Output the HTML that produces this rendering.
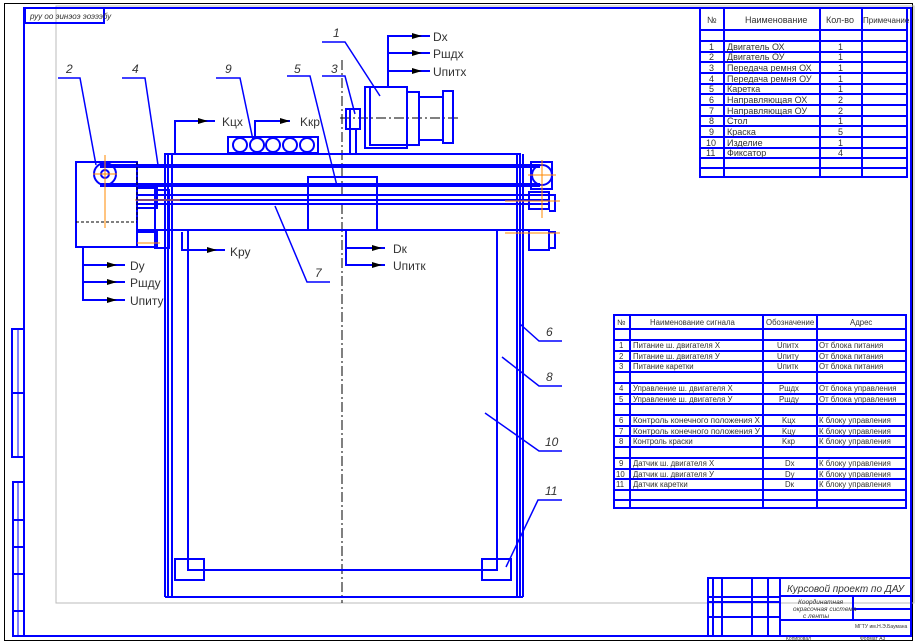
<!DOCTYPE html>
<html><head><meta charset="utf-8"><style>
html,body{margin:0;padding:0;background:#fff}
svg{display:block}
text{font-family:"Liberation Sans","DejaVu Sans",sans-serif;fill:#333}
</style></head><body>
<svg width="917" height="644" viewBox="0 0 917 644" xmlns="http://www.w3.org/2000/svg">
<rect x="4.5" y="3.5" width="908" height="637" fill="none" stroke="#000" stroke-width="1"/>
<rect x="56" y="6" width="858" height="597" fill="none" stroke="#bbb" stroke-width="1"/>
<g fill="none" stroke="#0000ff" stroke-width="2">
<rect x="24" y="8" width="887" height="628"/>
<rect x="25" y="8" width="79" height="15"/>
<rect x="12" y="329" width="12" height="128"/>
<line x1="12" y1="393" x2="24" y2="393"/>
<rect x="13" y="482" width="11" height="154"/>
<line x1="13" y1="520" x2="24" y2="520"/>
<line x1="13" y1="547" x2="24" y2="547"/>
<line x1="13" y1="574" x2="24" y2="574"/>
<line x1="13" y1="611" x2="24" y2="611"/>
<line x1="18" y1="329" x2="18" y2="457" stroke-width="1"/>
<line x1="18" y1="482" x2="18" y2="636" stroke-width="1"/>
</g>
<text x="30" y="19" font-size="8" font-style="italic" fill="#555">руу оо эинэоэ эоэээбу</text>

<line x1="342" y1="60" x2="342" y2="603" stroke="#000" stroke-width="1" stroke-dasharray="10,3,2,3"/>
<line x1="340" y1="118" x2="460" y2="118" stroke="#000" stroke-width="1" stroke-dasharray="10,3,2,3"/>

<g fill="none" stroke="#0000ff" stroke-width="2">
<rect x="365" y="87" width="42" height="61"/>
<rect x="370" y="87" width="37" height="58"/>
<rect x="407" y="92" width="12" height="53"/>
<rect x="419" y="97" width="24" height="43"/>
<rect x="443" y="91" width="10" height="52"/>
<rect x="346" y="109" width="14" height="20"/>
<line x1="350" y1="109" x2="350" y2="153"/>
<line x1="356" y1="129" x2="356" y2="153"/>
<rect x="228" y="137" width="90" height="16"/>
<circle cx="240" cy="145" r="7"/><circle cx="257" cy="145" r="7"/><circle cx="273" cy="145" r="7"/><circle cx="290" cy="145" r="7"/><circle cx="307" cy="145" r="7"/>
<rect x="165" y="154" width="355" height="76"/>
<line x1="168" y1="154" x2="168" y2="597"/>
<line x1="172" y1="154" x2="172" y2="597"/>
<line x1="517" y1="154" x2="517" y2="597"/>
<line x1="520" y1="154" x2="520" y2="597"/>
<line x1="165" y1="230" x2="165" y2="597"/>
<line x1="523" y1="154" x2="523" y2="597"/>
<line x1="165" y1="597" x2="523" y2="597"/>
<line x1="100" y1="166" x2="540" y2="166" stroke-width="4"/>
<line x1="100" y1="185" x2="540" y2="185" stroke-width="4"/>
<line x1="137" y1="195" x2="548" y2="195"/>
<line x1="137" y1="200" x2="548" y2="200"/>
<line x1="137" y1="204" x2="548" y2="204"/>
<line x1="137" y1="230" x2="548" y2="230"/>
<rect x="76" y="162" width="61" height="85"/>
<circle cx="105" cy="174" r="11"/>
<circle cx="105" cy="174" r="4"/>
<rect x="137" y="188" width="20" height="20"/>
<rect x="137" y="232" width="20" height="15"/>
<rect x="155" y="190" width="14" height="58"/>
<rect x="531" y="162" width="21" height="27"/>
<circle cx="542" cy="175" r="10"/>
<rect x="529" y="192" width="20" height="17"/>
<rect x="529" y="230" width="20" height="20"/>
<path d="M549,195 h6 v16 h-6"/>
<path d="M549,232 h6 v16 h-6"/>
<rect x="308" y="177" width="69" height="53"/>
<rect x="188" y="230" width="309" height="340"/>
<rect x="175" y="559" width="29" height="21"/>
<rect x="482" y="559" width="29" height="21"/>
</g>
<g stroke="#ff8800" stroke-width="1">
<line x1="105" y1="155" x2="105" y2="228"/><line x1="93" y1="174" x2="117" y2="174"/>
<line x1="542" y1="160" x2="542" y2="218"/><line x1="528" y1="175" x2="556" y2="175"/>
<line x1="135" y1="200" x2="180" y2="200"/><line x1="505" y1="201" x2="560" y2="201"/>
<line x1="505" y1="233" x2="560" y2="233"/><line x1="137" y1="243" x2="160" y2="243"/>
</g>
<g stroke="#000" stroke-width="1" stroke-dasharray="3,2" fill="none">
<line x1="137" y1="162" x2="137" y2="222"/>
<line x1="76" y1="222" x2="137" y2="222"/>
</g>

<g fill="none" stroke="#0000ff" stroke-width="1.5">
<path d="M322,42 H345 L380,96"/>
<path d="M58,78 H80 L96,165"/>
<path d="M122,78 H145 L158,165"/>
<path d="M216,78 H240 L253,140"/>
<path d="M287,76 H310 L337,186"/>
<path d="M322,76 H345 L355,114"/>
<path d="M275,206 L307,282 H330"/>
<path d="M520,324 L539,341 H562"/>
<path d="M502,357 L539,386 H562"/>
<path d="M485,413 L539,451 H562"/>
<path d="M506,567 L538,500 H562"/>
</g>
<g font-size="12" font-style="italic" fill="#444">
<text x="333" y="37">1</text><text x="66" y="73">2</text><text x="132" y="73">4</text>
<text x="225" y="73">9</text><text x="294" y="73">5</text><text x="331" y="73">3</text>
<text x="315" y="277">7</text><text x="546" y="336">6</text><text x="546" y="381">8</text>
<text x="545" y="446">10</text><text x="545" y="495">11</text>
</g>

<g fill="none" stroke="#0000ff" stroke-width="2">
<path d="M388,87 V36 H430"/><path d="M388,53 H430"/><path d="M388,71 H430"/>
<path d="M175,154 V121 H215"/>
<path d="M255,137 V121 H290"/>
<path d="M182,232 V250 H225"/>
<path d="M346,230 V265 H385"/><path d="M346,248 H385"/>
<path d="M83,247 V300 H125"/><path d="M83,265 H125"/><path d="M83,282 H125"/>
</g>
<g fill="#000">
<path d="M412,33 l10,3 l-10,3z"/><path d="M412,50 l10,3 l-10,3z"/><path d="M412,68 l10,3 l-10,3z"/>
<path d="M198,118 l10,3 l-10,3z"/><path d="M280,118 l10,3 l-10,3z"/>
<path d="M207,247 l10,3 l-10,3z"/>
<path d="M372,245 l10,3 l-10,3z"/><path d="M372,262 l10,3 l-10,3z"/>
<path d="M107,262 l10,3 l-10,3z"/><path d="M107,279 l10,3 l-10,3z"/><path d="M107,297 l10,3 l-10,3z"/>
</g>
<g font-size="12" fill="#555">
<text x="433" y="41">Dx</text><text x="433" y="58">Pшдх</text><text x="433" y="76">Uпитх</text>
<text x="222" y="126">Kцx</text><text x="300" y="126">Kкр</text>
<text x="230" y="256">Kру</text>
<text x="393" y="253">Dк</text><text x="393" y="270">Uпитк</text>
<text x="130" y="270">Dу</text><text x="130" y="287">Pшду</text><text x="130" y="305">Uпиту</text>
</g>

<g fill="none" stroke="#0000ff" stroke-width="2">
<rect x="700" y="8" width="207" height="169"/>
<line x1="724" y1="8" x2="724" y2="177"/><line x1="820" y1="8" x2="820" y2="177"/><line x1="862" y1="8" x2="862" y2="177"/>
<line x1="700" y1="30" x2="907" y2="30"/><line x1="700" y1="41" x2="907" y2="41"/>
<line x1="700" y1="52" x2="907" y2="52"/><line x1="700" y1="62" x2="907" y2="62"/><line x1="700" y1="73" x2="907" y2="73"/>
<line x1="700" y1="84" x2="907" y2="84"/><line x1="700" y1="94" x2="907" y2="94"/><line x1="700" y1="105" x2="907" y2="105"/>
<line x1="700" y1="116" x2="907" y2="116"/><line x1="700" y1="126" x2="907" y2="126"/><line x1="700" y1="137" x2="907" y2="137"/>
<line x1="700" y1="148" x2="907" y2="148"/><line x1="700" y1="158" x2="907" y2="158"/><line x1="700" y1="168" x2="907" y2="168"/>
</g>
<g font-size="9" fill="#333">
<text x="707" y="23">№</text><text x="745" y="23">Наименование</text><text x="826" y="23">Кол-во</text><text x="863" y="23" font-size="8">Примечание</text>
<text x="709" y="50">1</text><text x="727" y="50">Двигатель ОХ</text><text x="838" y="50">1</text>
<text x="709" y="60">2</text><text x="727" y="60">Двигатель ОУ</text><text x="838" y="60">1</text>
<text x="709" y="71">3</text><text x="727" y="71">Передача ремня ОХ</text><text x="838" y="71">1</text>
<text x="709" y="82">4</text><text x="727" y="82">Передача ремня ОУ</text><text x="838" y="82">1</text>
<text x="709" y="92">5</text><text x="727" y="92">Каретка</text><text x="838" y="92">1</text>
<text x="709" y="103">6</text><text x="727" y="103">Направляющая ОХ</text><text x="838" y="103">2</text>
<text x="709" y="114">7</text><text x="727" y="114">Направляющая ОУ</text><text x="838" y="114">2</text>
<text x="709" y="124">8</text><text x="727" y="124">Стол</text><text x="838" y="124">1</text>
<text x="709" y="135">9</text><text x="727" y="135">Краска</text><text x="838" y="135">5</text>
<text x="706" y="146">10</text><text x="727" y="146">Изделие</text><text x="838" y="146">1</text>
<text x="706" y="156">11</text><text x="727" y="156">Фиксатор</text><text x="838" y="156">4</text>
</g>

<g fill="none" stroke="#0000ff" stroke-width="2">
<rect x="614" y="315" width="292" height="193"/>
<line x1="630" y1="315" x2="630" y2="508"/><line x1="763" y1="315" x2="763" y2="508"/><line x1="817" y1="315" x2="817" y2="508"/>
<line x1="614" y1="329" x2="906" y2="329"/><line x1="614" y1="340" x2="906" y2="340"/><line x1="614" y1="351" x2="906" y2="351"/>
<line x1="614" y1="361" x2="906" y2="361"/><line x1="614" y1="372" x2="906" y2="372"/><line x1="614" y1="383" x2="906" y2="383"/>
<line x1="614" y1="394" x2="906" y2="394"/><line x1="614" y1="404" x2="906" y2="404"/><line x1="614" y1="415" x2="906" y2="415"/>
<line x1="614" y1="426" x2="906" y2="426"/><line x1="614" y1="436" x2="906" y2="436"/><line x1="614" y1="447" x2="906" y2="447"/>
<line x1="614" y1="458" x2="906" y2="458"/><line x1="614" y1="469" x2="906" y2="469"/><line x1="614" y1="479" x2="906" y2="479"/>
<line x1="614" y1="490" x2="906" y2="490"/><line x1="614" y1="500" x2="906" y2="500"/>
</g>
<g font-size="7.8" fill="#333">
<text x="617" y="325">№</text><text x="650" y="325">Наименование сигнала</text><text x="766" y="325">Обозначение</text><text x="850" y="325">Адрес</text>
<text x="619" y="348">1</text><text x="633" y="348">Питание ш. двигателя Х</text><text x="777" y="348">Uпитх</text><text x="819" y="348">От блока питания</text>
<text x="619" y="359">2</text><text x="633" y="359">Питание ш. двигателя У</text><text x="777" y="359">Uпиту</text><text x="819" y="359">От блока питания</text>
<text x="619" y="369">3</text><text x="633" y="369">Питание каретки</text><text x="777" y="369">Uпитк</text><text x="819" y="369">От блока питания</text>
<text x="619" y="391">4</text><text x="633" y="391">Управление ш. двигателя Х</text><text x="779" y="391">Pшдх</text><text x="819" y="391">От блока управления</text>
<text x="619" y="402">5</text><text x="633" y="402">Управление ш. двигателя У</text><text x="779" y="402">Pшду</text><text x="819" y="402">От блока управления</text>
<text x="619" y="423">6</text><text x="633" y="423" textLength="127" lengthAdjust="spacingAndGlyphs">Контроль конечного положения Х</text><text x="782" y="423">Kцх</text><text x="819" y="423">К блоку управления</text>
<text x="619" y="434">7</text><text x="633" y="434" textLength="127" lengthAdjust="spacingAndGlyphs">Контроль конечного положения У</text><text x="782" y="434">Kцу</text><text x="819" y="434">К блоку управления</text>
<text x="619" y="444">8</text><text x="633" y="444">Контроль краски</text><text x="782" y="444">Kкр</text><text x="819" y="444">К блоку управления</text>
<text x="619" y="466">9</text><text x="633" y="466">Датчик ш. двигателя Х</text><text x="785" y="466">Dх</text><text x="819" y="466">К блоку управления</text>
<text x="616" y="477">10</text><text x="633" y="477">Датчик ш. двигателя У</text><text x="785" y="477">Dу</text><text x="819" y="477">К блоку управления</text>
<text x="616" y="487">11</text><text x="633" y="487">Датчик каретки</text><text x="785" y="487">Dк</text><text x="819" y="487">К блоку управления</text>
</g>

<g fill="none" stroke="#0000ff" stroke-width="2">
<rect x="708" y="578" width="203" height="58"/>
<line x1="713" y1="578" x2="713" y2="636"/><line x1="722" y1="578" x2="722" y2="636"/>
<line x1="752" y1="578" x2="752" y2="636"/><line x1="768" y1="578" x2="768" y2="636"/>
<line x1="780" y1="578" x2="780" y2="636"/>
<line x1="780" y1="596" x2="911" y2="596"/>
<line x1="780" y1="620" x2="911" y2="620"/>
<line x1="853" y1="596" x2="853" y2="620"/>
<line x1="853" y1="609" x2="911" y2="609"/>
<line x1="708" y1="597" x2="780" y2="597"/>
<line x1="708" y1="602" x2="780" y2="602"/>
<line x1="708" y1="617" x2="780" y2="617"/>
</g>
<text x="787" y="592" font-size="10" font-style="italic" fill="#333" textLength="117" lengthAdjust="spacingAndGlyphs">Курсовой проект по ДАУ</text>
<text x="798" y="604" font-size="6.5" font-style="italic">Координатная</text>
<text x="793" y="611" font-size="6.5" font-style="italic">окрасочная система</text>
<text x="803" y="618" font-size="6.5" font-style="italic">с ленты</text>
<text x="855" y="628" font-size="5">МГТУ им.Н.Э.Баумана</text>
<text x="786" y="640" font-size="5">Копировал</text>
<text x="860" y="640" font-size="5">Формат А3</text>
</svg>
</body></html>
